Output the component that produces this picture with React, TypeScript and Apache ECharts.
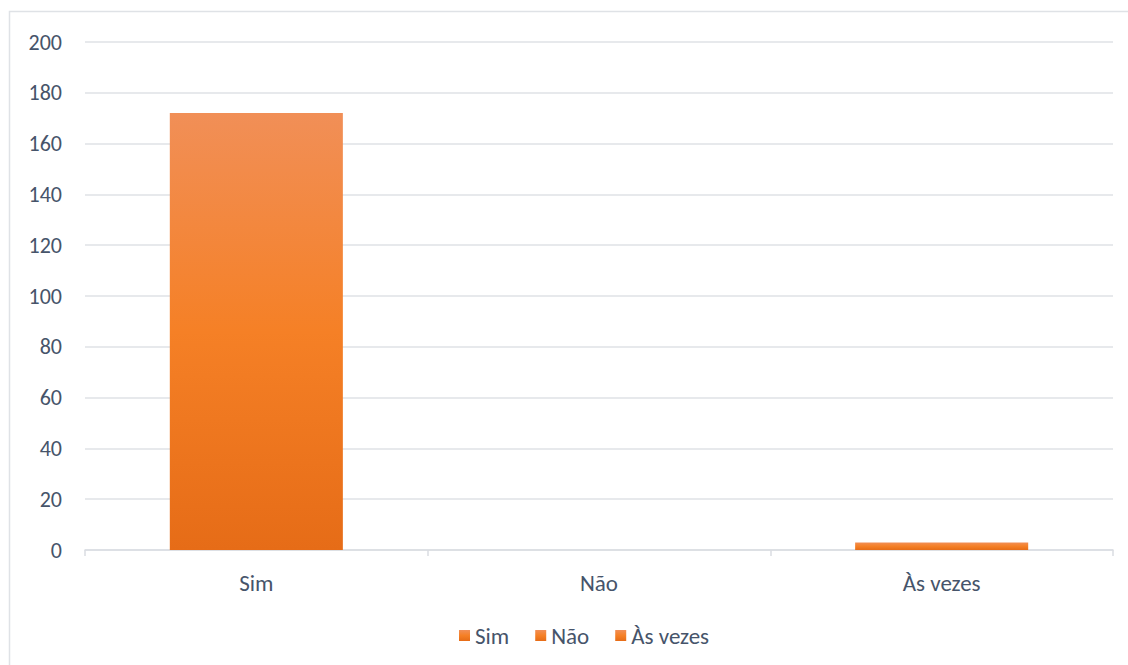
import React, { useEffect, useRef } from "react";
import * as echarts from "echarts";

const categories = ["Sim", "Não", "Às vezes"];
const values = [172, 0, 3];
const yTicks = { min: 0, max: 200, interval: 20 };

const FONT = "Carlito, Lato, 'Open Sans', sans-serif";
const TEXT = "#46546a";

const barGradient = () =>
  new echarts.graphic.LinearGradient(0, 0, 0, 1, [
    { offset: 0, color: "#F18F57" },
    { offset: 0.5, color: "#F58026" },
    { offset: 1, color: "#E66C17" },
  ]);

export default function App() {
  const ref = useRef<HTMLDivElement>(null);
  useEffect(() => {
    if (!ref.current) return;
    const chart = echarts.init(ref.current, undefined, { renderer: "svg" });
    const series = categories.map((name, i) => ({
      name,
      type: "bar",
      stack: "total",
      barWidth: "50.5%",
      data: categories.map((_, j) => (j === i ? values[i] : "-")),
      itemStyle: { color: barGradient() },
    }));
    chart.setOption({
      animation: false,
      backgroundColor: "#ffffff",
      textStyle: { fontFamily: FONT },
      graphic: [
        {
          type: "rect",
          shape: { x: 9.5, y: 11.5, width: 1200, height: 700 },
          style: { fill: "none", stroke: "#dfe2e6", lineWidth: 1.5 },
          silent: true,
        },
      ],
      grid: { left: 85, right: 15, top: 42, bottom: 115 },
      legend: {
        bottom: 13,
        left: 454,
        icon: "rect",
        itemWidth: 11,
        itemHeight: 11,
        itemGap: 26,
        data: categories,
        textStyle: { color: TEXT, fontSize: 23, fontFamily: FONT },
      },
      xAxis: {
        type: "category",
        data: categories,
        axisLine: { lineStyle: { color: "#dadde2", width: 1.5 } },
        axisTick: { show: true, length: 6, alignWithLabel: false, lineStyle: { color: "#dadde2", width: 1.5 } },
        axisLabel: { color: TEXT, fontSize: 23, margin: 21, fontFamily: FONT },
      },
      yAxis: {
        type: "value",
        min: yTicks.min,
        max: yTicks.max,
        interval: yTicks.interval,
        axisLine: { show: false },
        axisTick: { show: false },
        axisLabel: { color: TEXT, fontSize: 22, margin: 23, fontFamily: FONT },
        splitLine: { lineStyle: { color: "#dfe2e6", width: 1.5 } },
      },
      series,
    });
    return () => chart.dispose();
  }, []);
  return (
    <div
      ref={ref}
      style={{ position: "absolute", left: 0, top: 0, width: 1128, height: 665 }}
    />
  );
}
